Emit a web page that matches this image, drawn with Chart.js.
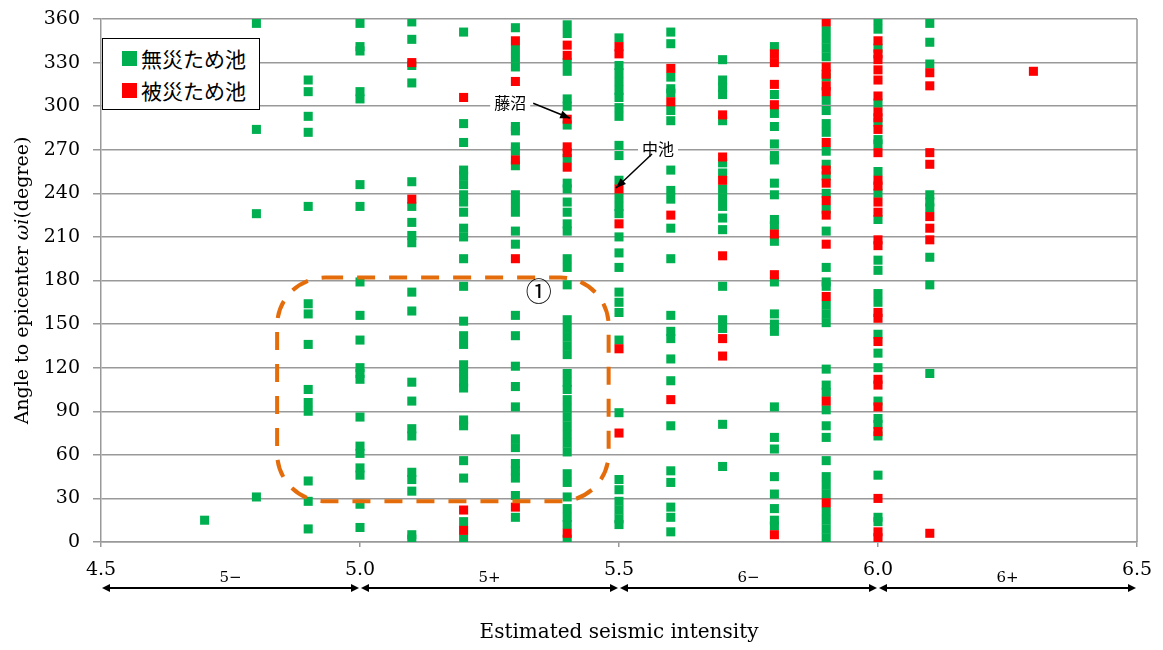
<!DOCTYPE html>
<html>
<head>
<meta charset="utf-8">
<script src="https://cdn.jsdelivr.net/npm/chart.js@4.4.1/dist/chart.umd.min.js"></script>
<style>
  body { margin: 0; background: #fff; }
  #wrap { position: relative; width: 1163px; height: 650px; }
  #legend {
    position: absolute; left: 102px; top: 38px; width: 158px; height: 72px;
    box-sizing: border-box; border: 1.5px solid #000; background: #fff;
    font-family: 'Noto Sans CJK JP', sans-serif; font-size: 21px; color: #000;
    padding-top: 3px;
  }
  #legend .item { display: flex; align-items: center; height: 32px; padding-left: 19px; }
  #legend .box { width: 15px; height: 15px; margin-right: 4px; }
</style>
</head>
<body>
<div id="wrap">
  <canvas id="chart" width="1163" height="650"></canvas>
  <div id="legend">
    <div class="item"><span class="box" style="background:#00b050"></span>無災ため池</div>
    <div class="item"><span class="box" style="background:#ff0000"></span>被災ため池</div>
  </div>
</div>
<script>
// 推定震度ごとの列 (x)
const intensities = [4.7, 4.8, 4.9, 5.0, 5.1, 5.2, 5.3, 5.4, 5.5, 5.6, 5.7, 5.8, 5.9, 6.0, 6.1, 6.3];

// 無災ため池 : 震央方向との角度 (degree)、列ごと
const safeAngles = [
  [15],
  [357, 284, 226, 31],
  [318, 310, 293, 282, 231, 164, 157, 136, 105, 96, 90, 42, 28, 9],
  [357, 341, 338, 310, 305, 246, 231, 179, 156, 139, 120, 116, 112, 86, 66, 61, 51, 46, 26, 10],
  [358, 346, 328, 316, 248, 231, 220, 211, 206, 172, 159, 110, 97, 78, 73, 48, 43, 35, 5, 2],
  [351, 288, 275, 256, 252, 246, 239, 234, 227, 216, 210, 195, 176, 152, 142, 136, 122, 116, 110, 106, 84, 80, 56, 44, 14, 2],
  [354, 339, 333, 327, 286, 283, 272, 269, 259, 239, 233, 227, 214, 205, 156, 142, 121, 107, 93, 71, 65, 54, 49, 44, 32, 17],
  [356, 350, 330, 324, 305, 300, 287, 264, 247, 243, 234, 227, 219, 214, 195, 189, 177, 153, 147, 141, 135, 129, 116, 110, 105, 98, 92, 86, 80, 74, 68, 62, 47, 41, 31, 23, 17, 12, 2],
  [347, 328, 323, 317, 311, 306, 299, 293, 273, 266, 249, 237, 231, 226, 210, 199, 189, 172, 165, 158, 139, 89, 43, 36, 28, 22, 16, 12],
  [351, 343, 320, 312, 309, 297, 290, 256, 242, 236, 216, 195, 156, 145, 140, 126, 111, 80, 49, 41, 24, 17, 7],
  [332, 318, 313, 308, 290, 261, 254, 243, 237, 231, 223, 215, 176, 153, 147, 81, 52],
  [341, 308, 295, 286, 274, 266, 263, 247, 239, 222, 218, 207, 179, 157, 150, 145, 93, 72, 64, 45, 33, 23, 15, 11],
  [352, 346, 340, 334, 320, 304, 297, 288, 282, 269, 260, 252, 240, 229, 214, 189, 179, 176, 163, 157, 151, 119, 108, 103, 91, 80, 72, 56, 45, 39, 33, 21, 15, 9, 3],
  [359, 353, 340, 302, 289, 277, 274, 255, 240, 222, 194, 187, 171, 165, 143, 130, 120, 97, 85, 81, 73, 46, 17, 14],
  [357, 344, 329, 239, 234, 230, 196, 177, 116],
  []
];

// 被災ため池
const damagedAngles = [
  [],
  [],
  [],
  [],
  [330, 236],
  [306, 22, 8],
  [345, 317, 263, 195, 24],
  [342, 335, 291, 272, 268, 258, 6],
  [341, 336, 243, 219, 133, 75],
  [326, 303, 225, 98],
  [294, 265, 249, 197, 140, 128],
  [336, 330, 315, 301, 212, 184, 5],
  [358, 327, 322, 314, 310, 275, 256, 247, 235, 225, 205, 169, 97, 27],
  [345, 336, 332, 325, 318, 307, 296, 292, 284, 268, 249, 245, 234, 227, 208, 204, 158, 154, 138, 112, 108, 93, 76, 30, 7, 3],
  [323, 314, 268, 260, 224, 216, 208, 6],
  [324]
];

// 震度階級
const classBounds = [4.5, 5.0, 5.5, 6.0, 6.5];
const classLabels = ['5\u2212', '5+', '6\u2212', '6+'];

// 注記 (藤沼, 中池)
const callouts = [
  { text: '藤沼', x: 5.4, y: 291, tail: [-34, -16], label: [-57, -16] },
  { text: '中池', x: 5.5, y: 243, tail: [33, -35], label: [39, -40] }
];

function toPoints(groups) {
  const pts = [];
  groups.forEach((list, i) => {
    list.forEach(a => pts.push({ x: intensities[i], y: a }));
  });
  return pts;
}

const serif = 'DejaVu Serif';

function arrowHead(ctx, x1, y1, x2, y2, len, half) {
  const ang = Math.atan2(y2 - y1, x2 - x1);
  ctx.beginPath();
  ctx.moveTo(x2, y2);
  ctx.lineTo(x2 - len * Math.cos(ang) + half * Math.sin(ang), y2 - len * Math.sin(ang) - half * Math.cos(ang));
  ctx.lineTo(x2 - len * Math.cos(ang) - half * Math.sin(ang), y2 - len * Math.sin(ang) + half * Math.cos(ang));
  ctx.closePath();
  ctx.fill();
}

const overlay = {
  id: 'overlay',
  beforeDatasetsDraw(chart) {
    const { ctx, chartArea: a } = chart;
    ctx.save();
    ctx.strokeStyle = '#999';
    ctx.lineWidth = 1.5;
    ctx.beginPath();
    ctx.moveTo(a.right, a.top);
    ctx.lineTo(a.right, a.bottom);
    ctx.stroke();
    ctx.restore();
  },
  afterDatasetsDraw(chart) {
    const { ctx, scales: { x, y } } = chart;
    ctx.save();

    // 領域① の破線枠
    const l = x.getPixelForValue(4.84), r = x.getPixelForValue(5.48);
    const t = y.getPixelForValue(182), b = y.getPixelForValue(28);
    ctx.strokeStyle = '#e46c0a';
    ctx.lineWidth = 4;
    ctx.setLineDash([18, 14]);
    ctx.beginPath();
    ctx.roundRect(l, t, r - l, b - t, 48);
    ctx.stroke();
    ctx.setLineDash([]);

    ctx.fillStyle = '#000';
    ctx.font = '26px "Noto Sans CJK JP"';
    ctx.textAlign = 'center';
    ctx.textBaseline = 'middle';
    ctx.fillText('①', x.getPixelForValue(5.345), y.getPixelForValue(173));

    // 注記
    ctx.font = '16px "Noto Sans CJK JP"';
    callouts.forEach(c => {
      const px = x.getPixelForValue(c.x), py = y.getPixelForValue(c.y);
      const tx = px + c.label[0], ty = py + c.label[1];
      const w = ctx.measureText(c.text).width;
      ctx.fillStyle = '#fff';
      ctx.fillRect(tx - w / 2 - 4, ty - 10, w + 8, 20);
      ctx.fillStyle = '#000';
      ctx.fillText(c.text, tx, ty);
      const sx = px + c.tail[0], sy = py + c.tail[1];
      const ex = px - 3 * Math.sign(c.tail[0]), ey = py - 1;
      ctx.strokeStyle = '#000';
      ctx.lineWidth = 1.5;
      ctx.beginPath();
      ctx.moveTo(sx, sy);
      ctx.lineTo(ex, ey);
      ctx.stroke();
      arrowHead(ctx, sx, sy, ex, ey, 10, 4);
    });
    ctx.restore();
  },
  afterDraw(chart) {
    const { ctx, chartArea: a, scales: { x } } = chart;
    ctx.save();
    ctx.fillStyle = '#000';
    ctx.strokeStyle = '#000';

    // 震度階級の矢印
    const ay = 588;
    ctx.lineWidth = 2;
    ctx.font = '15px ' + serif;
    ctx.textAlign = 'center';
    ctx.textBaseline = 'middle';
    classLabels.forEach((lab, i) => {
      const x1 = x.getPixelForValue(classBounds[i]) + 1;
      const x2 = x.getPixelForValue(classBounds[i + 1]) - 1;
      ctx.beginPath();
      ctx.moveTo(x1 + 4, ay);
      ctx.lineTo(x2 - 4, ay);
      ctx.stroke();
      arrowHead(ctx, x2 - 10, ay, x2, ay, 8, 4);
      arrowHead(ctx, x1 + 10, ay, x1, ay, 8, 4);
      ctx.fillText(lab, (x1 + x2) / 2, 578);
    });

    // 縦軸タイトル
    const parts = [
      { s: 'Angle to epicenter ', f: '19px ' + serif },
      { s: '\u03c9i', f: 'italic 19px ' + serif },
      { s: '(degree)', f: '19px ' + serif }
    ];
    let total = 0;
    parts.forEach(p => { ctx.font = p.f; p.w = ctx.measureText(p.s).width; total += p.w; });
    ctx.translate(23, (a.top + a.bottom) / 2);
    ctx.rotate(-Math.PI / 2);
    ctx.textAlign = 'left';
    let cx = -total / 2;
    parts.forEach(p => { ctx.font = p.f; ctx.fillText(p.s, cx, 0); cx += p.w; });
    ctx.restore();
  }
};

new Chart(document.getElementById('chart'), {
  type: 'scatter',
  data: {
    datasets: [
      {
        label: '被災ため池',
        data: toPoints(damagedAngles),
        pointStyle: 'rect',
        pointRadius: 6.4,
        pointHoverRadius: 6.4,
        pointBorderWidth: 0,
        backgroundColor: '#ff0000',
        borderColor: '#ff0000'
      },
      {
        label: '無災ため池',
        data: toPoints(safeAngles),
        pointStyle: 'rect',
        pointRadius: 6.4,
        pointHoverRadius: 6.4,
        pointBorderWidth: 0,
        backgroundColor: '#00b050',
        borderColor: '#00b050'
      }
    ]
  },
  options: {
    responsive: false,
    animation: false,
    layout: { padding: { left: 0, right: 26, top: 19, bottom: 0 } },
    plugins: { legend: { display: false }, tooltip: { enabled: false } },
    scales: {
      x: {
        type: 'linear',
        min: 4.5,
        max: 6.5,
        afterFit: s => { s.height = 108; s.paddingLeft = 0; s.paddingRight = 0; },
        ticks: {
          stepSize: 0.5,
          padding: 12,
          maxRotation: 0,
          autoSkip: false,
          color: '#000',
          font: { family: serif, size: 19 },
          callback: v => v.toFixed(1)
        },
        grid: { drawOnChartArea: false, drawTicks: true, tickLength: 5, color: '#999', lineWidth: 1.5 },
        border: { color: '#999', width: 1.5 },
        title: {
          display: true,
          text: 'Estimated seismic intensity',
          color: '#000',
          font: { family: serif, size: 20 },
          padding: { top: 5, bottom: 5 }
        }
      },
      y: {
        min: 0,
        max: 360,
        afterFit: s => { s.width = 101; s.paddingTop = 0; s.paddingBottom = 0; },
        ticks: { stepSize: 30, padding: 13, color: '#000', font: { family: serif, size: 19 } },
        grid: { color: '#999', lineWidth: 1.5, tickLength: 8 },
        border: { color: '#999', width: 1.5 }
      }
    }
  },
  plugins: [overlay]
});
</script>
</body>
</html>
